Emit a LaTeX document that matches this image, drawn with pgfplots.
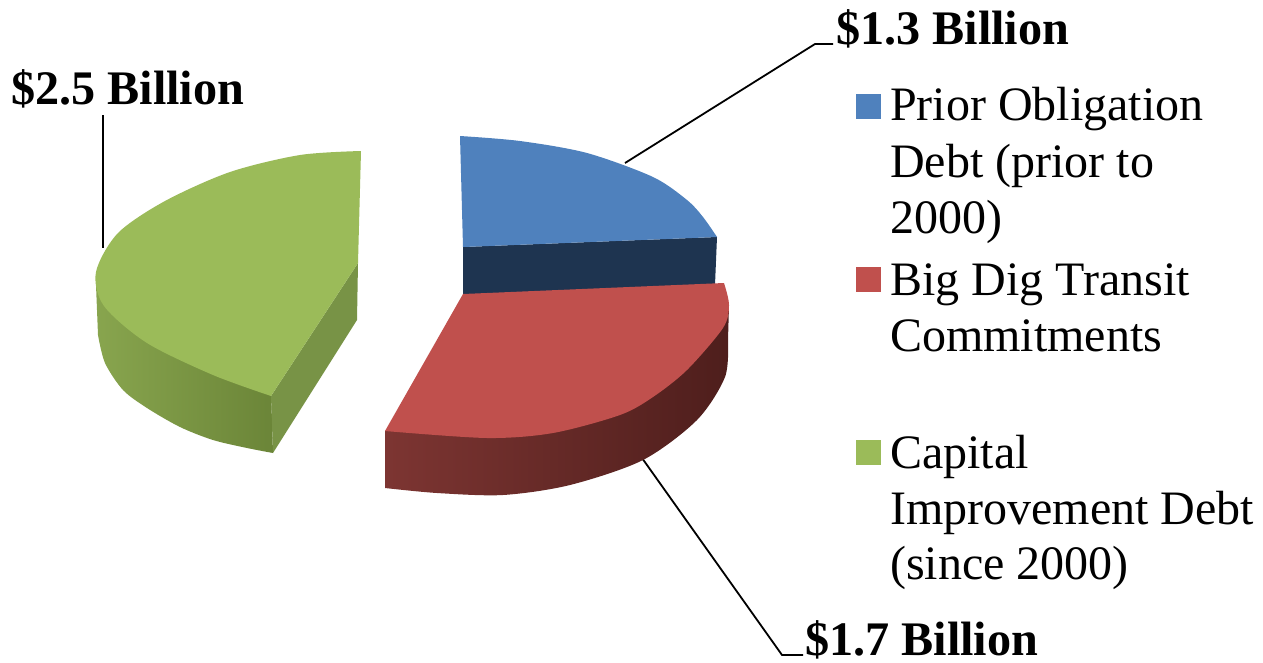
\documentclass[border=0pt]{standalone}
\usepackage{pgfplots}
\pgfplotsset{compat=1.18}
\usepackage{fontspec}
\setmainfont{Liberation Serif}
\definecolor{bluetop}{RGB}{79,129,189}
\definecolor{blueside}{RGB}{30,52,80}
\definecolor{redtop}{RGB}{192,80,77}
\definecolor{redA}{RGB}{125,53,50}
\definecolor{redB}{RGB}{95,36,34}
\definecolor{redC}{RGB}{78,30,28}
\definecolor{greentop}{RGB}{155,187,89}
\definecolor{greenA}{RGB}{136,165,78}
\definecolor{greenB}{RGB}{122,150,68}
\definecolor{greenC}{RGB}{107,133,56}
\definecolor{greencut}{RGB}{120,147,70}
\newcommand{\lab}{\fontsize{48.2}{50}\selectfont\bfseries}
\newcommand{\leg}{\fontsize{48}{55.5}\selectfont}
\begin{document}
\begin{tikzpicture}
\begin{axis}[
  hide axis, scale only axis, width=1263pt, height=662pt,
  xmin=0, xmax=1263, ymin=0, ymax=662, y dir=reverse, clip=false]
\path[use as bounding box] (axis cs:0,0) rectangle (axis cs:1263,662);
% leader lines
\addplot[black, line width=1.8pt] coordinates {(103,115) (103,248)};
\addplot[black, line width=1.8pt] coordinates {(833,44) (815,44) (625,163)};
\addplot[black, line width=1.8pt] coordinates {(642,458) (782,655) (803,655)};
% blue
\addplot[draw=none, fill=blueside] coordinates {(463,247) (717,237) (715,285) (463,295)} -- cycle;
\addplot[draw=none, fill=bluetop, smooth] coordinates {(460,136) (520,141) (587,153) (653,177) (687,200) (703,217) (717,237)} -- (axis cs:463,247) -- cycle;
% red side
\addplot[draw=none, left color=redA, middle color=redB, right color=redC, smooth] coordinates {(385,488) (437,493) (503,495) (570,485) (643,460) (697,420) (725,377) (728,340)} -- (axis cs:729,305) -- (axis cs:600,350) -- (axis cs:385,431) -- cycle;
% red top
\addplot[draw=none, fill=redtop, smooth] coordinates {(724,283) (729,305) (723,328) (687,370) (653,397) (620,415) (553,433) (487,438) (385,431)} -- (axis cs:463,294) -- cycle;
% green side
\addplot[draw=none, left color=greenA, middle color=greenB, right color=greenC, smooth] coordinates {(98,335) (105,363) (123,390) (147,408) (180,427) (213,440) (247,448) (273,453)} -- (axis cs:271,390) -- (axis cs:150,300) -- (axis cs:96,285) -- cycle;
\addplot[draw=none, fill=greencut] coordinates {(271,396) (358,263) (357,320) (273,453)} -- cycle;
% green top
\addplot[draw=none, fill=greentop, smooth] coordinates {(361,151) (300,155) (230,172) (165,201) (118,233) (96,272) (104,306) (147,343) (213,375) (271,396)} -- (axis cs:358,263) -- cycle;
% legend keys
\addplot[only marks, color=bluetop, mark=square*, mark size=12pt] coordinates {(868,106)};
\addplot[only marks, color=redtop, mark=square*, mark size=12pt] coordinates {(868,279)};
\addplot[only marks, color=greentop, mark=square*, mark size=12pt] coordinates {(868,452)};
% labels
\node[anchor=base west, inner sep=0pt] at (axis cs:836,44.5) {\lab \$1.3 Billion};
\node[anchor=base west, inner sep=0pt] at (axis cs:11,104) {\lab \$2.5 Billion};
\node[anchor=base west, inner sep=0pt] at (axis cs:805,655) {\lab \$1.7 Billion};
\node[anchor=base west, inner sep=0pt] at (axis cs:890,120) {\leg Prior Obligation};
\node[anchor=base west, inner sep=0pt] at (axis cs:890,177) {\leg Debt (prior to};
\node[anchor=base west, inner sep=0pt] at (axis cs:890,233) {\leg 2000)};
\node[anchor=base west, inner sep=0pt] at (axis cs:890,295) {\leg Big Dig Transit};
\node[anchor=base west, inner sep=0pt] at (axis cs:890,351) {\leg Commitments};
\node[anchor=base west, inner sep=0pt] at (axis cs:890,468.5) {\leg Capital};
\node[anchor=base west, inner sep=0pt] at (axis cs:890,524.5) {\leg Improvement Debt};
\node[anchor=base west, inner sep=0pt] at (axis cs:890,579.5) {\leg (since 2000)};
\end{axis}
\end{tikzpicture}
\end{document}
